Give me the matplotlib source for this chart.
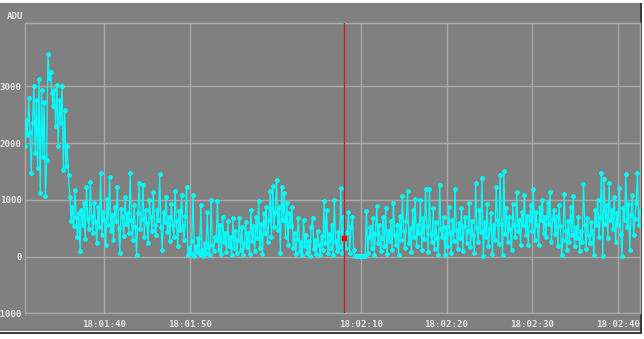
import numpy as np
import matplotlib
matplotlib.use("Agg")
import matplotlib.pyplot as plt
from matplotlib.patches import Rectangle

# time axis: seconds after 18:01:00, one sample every 0.15 s
t_start = 30.75
t_step = 0.15

# ADU readings
adu_high = [1940, 2400, 2150, 2790, 2200, 1470, 2350, 3000, 1820, 2760,
            1560, 3120, 1120, 2940, 1760, 2730, 1060, 1700, 3560, 3150,
            3260, 2880, 2650, 2940, 2300, 3030, 1940, 2760, 2350, 3000,
            1530, 2590, 1590, 1940, 1440]
adu_mid = [1050, 620, 880, 540, 1180, 690, 350, 760, 105, 820,
           560, 940, 310, 1230, 660, 480, 1320, 720, 410, 950,
           600, 230, 880, 520, 1470, 380, 780, 640, 210, 1010,
           560, 1400, 450, 730, 300, 880, 620, 1230, 500, 70,
           840, 690, 360, 1050, 580, 760, 420, 1480, 640, 300,
           900, 520, 30, 760, 1290, 480, 670, 1260, 350, 820,
           590, 240, 1000, 700, 450, 1130, 560, 380, 820, 650,
           1450, 520, 120, 780, 600, 1050, 430, 700, 280, 920,
           560, 350, 1150, 620, 180, 800, 470, 1080, 540, 300, 720]
adu_low = [1230, 20, 150, 60, 280, 1090, 10, 190, 80, 330,
           40, 900, 120, 10, 240, 70, 780, 160, 30, 990, 210, 90, 350]
adu_rise = [300, 970, 120, 560, 40, 700, 250, 420, 80, 620,
            190, 340, 20, 680, 150, 450, 60, 300, 680, 110,
            520, 30, 240, 600, 170, 410, 50, 820, 280, 530,
            90, 700, 330, 970, 150, 580, 40, 760, 420, 880,
            260, 640, 1150, 350, 1250, 520, 780]
adu_peak = [1350, 460, 880, 60, 1230, 640, 1120, 350, 950, 210, 760, 540]
adu_quiet = [880, 150, 420, 40, 310, 680, 90, 250, 20, 650,
             180, 380, 60, 280, 10, 520, 680, 130, 300, 50,
             450, 200, 30, 360, 110, 970, 240, 820, 70, 400,
             150, 560, 30, 990, 270, 90, 440, 160, 1200, 60, 700, 320]
adu_cursor = [150, 430, 780, 60, 520, 700, 120]
adu_flat = [10, 5, 10, 8, 5, 10, 5, 8, 10]
adu_after = [800, 60, 350, 520, 150, 680, 20, 400, 890, 230,
             560, 90, 320, 700, 180, 850, 40, 450, 270, 620,
             110, 940, 380, 200, 560, 30, 710, 300, 1060, 450,
             150, 620, 1150, 240, 500, 80, 820, 350, 1010, 190,
             560, 420, 1000, 120, 680, 310, 1190, 530, 80, 1190,
             400, 250, 850, 140, 600, 330, 20, 1260, 480]
adu_late = [350, 700, 20, 520, 180, 880, 410, 60, 650, 280,
            1190, 470, 130, 590, 320, 860, 90, 540, 700, 240,
            450, 950, 160, 620, 380, 70, 1300, 500, 260, 820,
            430, 1390, 10, 600, 350, 920, 180, 480, 760, 40,
            550, 300, 1230, 650, 220, 1440, 580, 30, 1510, 400,
            860, 250, 700, 480, 120, 920, 560, 340, 1130, 450,
            650, 200, 780]
adu_k = [560, 1090, 380, 720, 200, 640, 900, 450, 1190, 300,
         780, 560, 210, 870, 640, 1000, 420, 700, 350, 950,
         580, 1130, 260, 660, 820, 400, 720, 180, 900, 540, 20]
adu_dip = [300, 1110, 450, 120, 620, 250, 880, 380, 1060, 180,
           520, 330, 700, 90, 450, 260, 1280, 560, 140, 680,
           380, 230, 600]
adu_end = [450, 20, 820, 560, 1000, 350, 700, 1470, 10, 1360,
           580, 900, 320, 1290, 640, 820, 480, 1050, 250, 760,
           560, 1200, 400, 5, 860, 650, 1460, 520, 920, 120,
           740, 1080, 380, 660, 950, 1480, 560, 800]

cursor_time = 68.05
cursor_value = 320

tick_secs = [40, 50, 70, 80, 90, 100]
tick_labels = ['18:01:40', '18:01:50', '18:02:10', '18:02:20', '18:02:30', '18:02:40']
ytick_vals = [-1000, 0, 1000, 2000, 3000]

adu = np.array(adu_high + adu_mid + adu_low + adu_rise + adu_peak + adu_quiet +
               adu_cursor + adu_flat + adu_after + adu_late + adu_k + adu_dip + adu_end)
t = t_start + t_step * np.arange(len(adu))

W, H = 644, 339
bg = '#808080'
grid_col = '#a9a9a9'
txt_col = '#e4e4e4'
mono = 'DejaVu Sans Mono'

fig = plt.figure(figsize=(W / 100, H / 100), dpi=100)
fig.patch.set_facecolor('white')

# screenshot panel with its frame (drawn under the axes)
fig.patches.append(Rectangle((0, (H - 331) / H), 640 / W, 328 / H,
                             transform=fig.transFigure, facecolor=bg, edgecolor='none', zorder=-5))
fig.patches.append(Rectangle((640 / W, (H - 334) / H), 2 / W, 331 / H,
                             transform=fig.transFigure, facecolor='#3a3a3a', edgecolor='none', zorder=-5))
fig.patches.append(Rectangle((0, (H - 334) / H), 642 / W, 2 / H,
                             transform=fig.transFigure, facecolor='#3a3a3a', edgecolor='none', zorder=-5))

ax = fig.add_axes([24.5 / W, (H - 313.3) / H, (640 - 24.5) / W, (313.3 - 22.7) / H])
ax.set_facecolor(bg)
ax.set_xlim(30.71, 102.6)
ax.set_ylim(-1000, 4120)

ax.set_xticks(tick_secs)
ax.set_xticklabels(tick_labels)
ax.set_yticks(ytick_vals)
ax.set_yticklabels([str(v) for v in ytick_vals])
ax.tick_params(length=0, colors=txt_col, labelsize=6.6)
ax.tick_params(axis='x', pad=5)
ax.tick_params(axis='y', pad=2)
for lab in ax.get_xticklabels() + ax.get_yticklabels():
    lab.set_family(mono)
    lab.set_fontweight('bold')

ax.grid(True, color=grid_col, linewidth=1.0)
ax.set_axisbelow(True)
for s in ax.spines.values():
    s.set_color(grid_col)
    s.set_linewidth(1.0)

ax.plot(t, adu, color='#00ffff', linewidth=0.9, marker='o', markersize=3.4,
        markeredgewidth=0, zorder=3)

ax.axvline(cursor_time, color='#c8202a', linewidth=1.0, zorder=4)
ax.plot([cursor_time], [cursor_value], marker='s', markersize=2.4, color='#ff0000', zorder=5)

fig.text(7 / W, (H - 16.5) / H, 'ADU', color=txt_col, fontsize=6.6, family=mono,
         fontweight='bold', va='center', ha='left')

fig.savefig('out.png', dpi=100, facecolor=fig.get_facecolor())
